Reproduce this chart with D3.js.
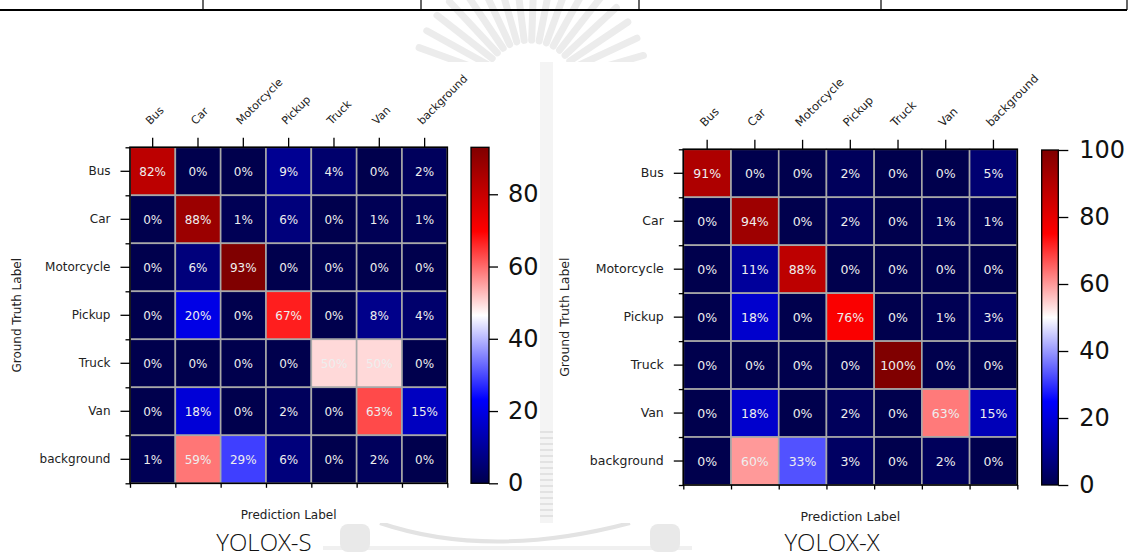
<!DOCTYPE html>
<html>
<head>
<meta charset="utf-8">
<script src="https://cdn.jsdelivr.net/npm/d3@7"></script>
<style>
  html, body { margin: 0; padding: 0; background: #fff; }
  svg { display: block; }
</style>
</head>
<body>
<script>
// ---------------- DATA ----------------
const categories = ["Bus", "Car", "Motorcycle", "Pickup", "Truck", "Van", "background"];

const yoloxS = [
  [82, 0, 0, 9, 4, 0, 2],
  [0, 88, 1, 6, 0, 1, 1],
  [0, 6, 93, 0, 0, 0, 0],
  [0, 20, 0, 67, 0, 8, 4],
  [0, 0, 0, 0, 50, 50, 0],
  [0, 18, 0, 2, 0, 63, 15],
  [1, 59, 29, 6, 0, 2, 0]
];

const yoloxX = [
  [91, 0, 0, 2, 0, 0, 5],
  [0, 94, 0, 2, 0, 1, 1],
  [0, 11, 88, 0, 0, 0, 0],
  [0, 18, 0, 76, 0, 1, 3],
  [0, 0, 0, 0, 100, 0, 0],
  [0, 18, 0, 2, 0, 63, 15],
  [0, 60, 33, 3, 0, 2, 0]
];

const colorbarTicksS = [0, 20, 40, 60, 80];
const colorbarTicksX = [0, 20, 40, 60, 80, 100];
const vmaxS = 93;
const vmaxX = 100;

const titles = ["YOLOX-S", "YOLOX-X"];
const xAxisTitle = "Prediction Label";
const yAxisTitle = "Ground Truth Label";

// seismic colormap anchors
const seismicStops = [0, 0.25, 0.5, 0.75, 1];
const seismicColors = ["#00004d", "#0000ff", "#ffffff", "#ff0000", "#800000"];

// ---------------- LAYOUT ----------------
const W = 1138, H = 558;
const svg = d3.select("body").append("svg").attr("width", W).attr("height", H);
svg.append("rect").attr("width", W).attr("height", H).attr("fill", "#fff");

// faint watermark (background decoration)
const wm = svg.append("g").attr("fill", "none");
const wmCx = 530, wmCy = 88;
d3.range(-178, 12, 9).forEach(a => {
  const r = a * Math.PI / 180;
  const r0 = 48, r1 = 118;
  wm.append("line")
    .attr("x1", wmCx + r0 * Math.cos(r)).attr("y1", wmCy + r0 * Math.sin(r))
    .attr("x2", wmCx + r1 * Math.cos(r)).attr("y2", wmCy + r1 * Math.sin(r))
    .attr("stroke", "#ececec").attr("stroke-width", 7).attr("stroke-linecap", "round");
});
wm.append("rect").attr("x", 540).attr("y", 62).attr("width", 13).attr("height", 461).attr("fill", "#f4f4f4");
d3.range(432, 520, 6).forEach(yy => {
  wm.append("line").attr("x1", 540).attr("x2", 553).attr("y1", yy).attr("y2", yy)
    .attr("stroke", "#e2e2e2").attr("stroke-width", 2);
});
wm.append("path").attr("d", "M380,523 Q490,560 630,523").attr("stroke", "#e3e3e3").attr("stroke-width", 4);
wm.append("line").attr("x1", 323).attr("x2", 692).attr("y1", 548).attr("y2", 548).attr("stroke", "#f0f0f0").attr("stroke-width", 4);
[[340, 370], [650, 680]].forEach(([a, b]) => {
  wm.append("rect").attr("x", a).attr("y", 524).attr("width", b - a).attr("height", 28).attr("rx", 8).attr("fill", "#e9e9e9");
});

// white figure panels
svg.append("rect").attr("x", 0).attr("y", 62).attr("width", 540).attr("height", 461).attr("fill", "#fff");
svg.append("rect").attr("x", 553).attr("y", 62).attr("width", W - 553).attr("height", 461).attr("fill", "#fff");

// top table rule
svg.append("line").attr("x1", 0).attr("x2", 1127).attr("y1", 10).attr("y2", 10)
  .attr("stroke", "#000").attr("stroke-width", 2);
[203, 421, 639, 881, 1127].forEach(xx => {
  svg.append("line").attr("x1", xx).attr("x2", xx).attr("y1", 0).attr("y2", 10)
    .attr("stroke", "#000").attr("stroke-width", 1.2);
});

const defs = svg.append("defs");

function drawChart(values, vmax, cbTicks, title, L, id) {
  const g = svg.append("g");
  const x = d3.scaleBand().domain(categories).range([L.x0, L.x1]);
  const y = d3.scaleBand().domain(categories).range([L.y0, L.y1]);
  const color = d3.scaleLinear().domain(seismicStops.map(t => t * vmax)).range(seismicColors).clamp(true);

  const cells = values.flatMap((row, i) => row.map((v, j) => ({ r: categories[i], c: categories[j], v })));
  g.selectAll("rect.cell").data(cells).join("rect")
    .attr("class", "cell")
    .attr("x", d => x(d.c)).attr("y", d => y(d.r))
    .attr("width", x.bandwidth()).attr("height", y.bandwidth())
    .attr("fill", d => color(d.v))
    .attr("stroke", "#a8a8a8").attr("stroke-width", 1.6);
  g.selectAll("text.cell").data(cells).join("text")
    .attr("class", "cell")
    .attr("x", d => x(d.c) + x.bandwidth() / 2)
    .attr("y", d => y(d.r) + y.bandwidth() / 2)
    .attr("dy", "0.36em")
    .attr("text-anchor", "middle")
    .attr("font-family", "DejaVu Sans")
    .attr("font-size", L.cellFs)
    .attr("fill", "#eeeeee")
    .text(d => d.v + "%");

  g.append("rect").attr("x", L.x0).attr("y", L.y0)
    .attr("width", L.x1 - L.x0).attr("height", L.y1 - L.y0)
    .attr("fill", "none").attr("stroke", "#000").attr("stroke-width", 1.6);

  const styleAxis = sel => {
    sel.select(".domain").remove();
    sel.selectAll("line").attr("stroke", "#000").attr("stroke-width", 1.3);
    sel.selectAll("text").attr("font-family", "DejaVu Sans").attr("fill", "#222");
  };

  // top axis: major ticks with rotated labels
  const topAx = g.append("g").attr("transform", `translate(0,${L.y0})`)
    .call(d3.axisTop(x).tickSize(L.majorLen).tickSizeOuter(0))
    .call(styleAxis);
  topAx.selectAll("text")
    .attr("font-size", L.topFs)
    .attr("text-anchor", "start")
    .attr("x", 0).attr("y", 0).attr("dy", 0)
    .attr("transform", `translate(${L.topDx},${-L.majorLen - L.topDy}) rotate(-45)`);

  // left axis: major ticks with labels
  g.append("g").attr("transform", `translate(${L.x0},0)`)
    .call(d3.axisLeft(y).tickSize(L.majorLen).tickPadding(10).tickSizeOuter(0))
    .call(styleAxis)
    .selectAll("text").attr("font-size", L.labFs);

  // minor ticks at cell boundaries
  const xLin = d3.scaleLinear().domain([0, categories.length]).range([L.x0, L.x1]);
  const yLin = d3.scaleLinear().domain([0, categories.length]).range([L.y0, L.y1]);
  g.append("g").attr("transform", `translate(${L.x0},0)`)
    .call(d3.axisLeft(yLin).tickValues(d3.range(categories.length + 1)).tickSize(L.minorLen).tickFormat(""))
    .call(styleAxis);
  g.append("g").attr("transform", `translate(0,${L.y1})`)
    .call(d3.axisBottom(xLin).tickValues(d3.range(categories.length + 1)).tickSize(L.minorLen).tickFormat(""))
    .call(styleAxis);

  // axis titles
  g.append("text").attr("x", (L.x0 + L.x1) / 2).attr("y", L.xTitleY)
    .attr("text-anchor", "middle").attr("font-family", "DejaVu Sans")
    .attr("font-size", L.labFs).attr("fill", "#222").text(xAxisTitle);
  g.append("text")
    .attr("transform", `translate(${L.yTitleX},${(L.y0 + L.y1) / 2}) rotate(-90)`)
    .attr("text-anchor", "middle").attr("font-family", "DejaVu Sans")
    .attr("font-size", L.labFs).attr("fill", "#222").text(yAxisTitle);

  // colorbar
  const grad = defs.append("linearGradient").attr("id", "grad" + id)
    .attr("x1", 0).attr("y1", 1).attr("x2", 0).attr("y2", 0);
  d3.range(0, 1.0001, 0.05).forEach(t => {
    grad.append("stop").attr("offset", t).attr("stop-color", color(t * vmax));
  });
  g.append("rect").attr("x", L.cbX0).attr("y", L.cbY0)
    .attr("width", L.cbX1 - L.cbX0).attr("height", L.cbY1 - L.cbY0)
    .attr("fill", `url(#grad${id})`).attr("stroke", "#000").attr("stroke-width", 1.3);
  const cbScale = d3.scaleLinear().domain([0, vmax]).range([L.cbY1, L.cbY0]);
  g.append("g").attr("transform", `translate(${L.cbX1},0)`)
    .call(d3.axisRight(cbScale).tickValues(cbTicks).tickSize(L.cbTickLen).tickPadding(L.cbPad).tickSizeOuter(0))
    .call(styleAxis)
    .selectAll("text").attr("font-size", 24).attr("fill", "#111");

  // panel caption
  svg.append("text").attr("x", L.titleX).attr("y", 551)
    .attr("text-anchor", "middle")
    .attr("font-family", "'Open Sans', 'Noto Sans', sans-serif")
    .attr("font-weight", 300)
    .attr("font-size", 24).attr("fill", "#111").text(title);
}

drawChart(yoloxS, vmaxS, colorbarTicksS, titles[0], {
  x0: 130, x1: 447.3, y0: 147.3, y1: 483.3,
  cbX0: 471, cbX1: 489, cbY0: 147.3, cbY1: 483.3, cbTickLen: 9, cbPad: 10,
  majorLen: 9.5, minorLen: 4.5, topDx: -2.5, topDy: 12.5,
  cellFs: 12, labFs: 12, topFs: 11,
  xTitleY: 519, yTitleX: 21, titleX: 264
}, "S");

drawChart(yoloxX, vmaxX, colorbarTicksX, titles[1], {
  x0: 683.3, x1: 1017.3, y0: 149.3, y1: 485,
  cbX0: 1041.7, cbX1: 1058.3, cbY0: 150, cbY1: 485, cbTickLen: 10, cbPad: 11,
  majorLen: 9.5, minorLen: 4.5, topDx: -2.5, topDy: 12.5,
  cellFs: 12.5, labFs: 12.5, topFs: 11.5,
  xTitleY: 521, yTitleX: 569, titleX: 832
}, "X");
</script>
</body>
</html>
